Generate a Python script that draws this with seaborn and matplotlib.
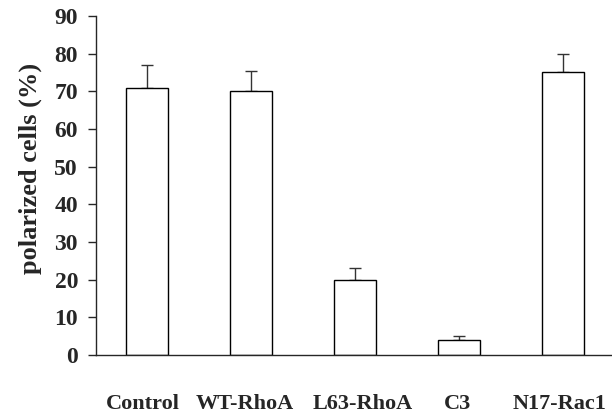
import seaborn as sns
import matplotlib.pyplot as plt
import matplotlib.transforms as mtransforms
import pandas as pd

groups = ['Control', 'WT-RhoA', 'L63-RhoA', 'C3', 'N17-Rac1']
polarized = [71, 70, 20, 4, 75]
err = [6, 5.5, 3, 1, 5]

df = pd.DataFrame({'group': groups, 'polarized': polarized})

sns.set_style('ticks')
plt.rcParams['font.family'] = ['Liberation Serif', 'DejaVu Serif']
plt.rcParams['font.weight'] = 'bold'

fig = plt.figure(figsize=(6.12, 4.16), dpi=100)
ax = fig.add_axes([0.157, 0.1466, 0.843, 0.815])

sns.barplot(data=df, x='group', y='polarized', color='white', edgecolor='black',
            linewidth=1, width=0.40, ax=ax, zorder=2)
ax.errorbar(range(len(groups)), polarized, yerr=[[0] * len(err), err], fmt='none',
            ecolor='#333333', elinewidth=1, capsize=4.5, capthick=1, zorder=1)

ax.set_ylim(0, 90)
ax.set_yticks(range(0, 91, 10))
ax.set_xlim(-0.49, 4.47)
sns.despine(ax=ax)
ax.spines['left'].set_linewidth(1)
ax.spines['bottom'].set_linewidth(1)
ax.tick_params(axis='y', length=6, width=1, pad=7, labelsize=17)
ax.tick_params(axis='x', length=0, pad=28, labelsize=16)
for lab in ax.get_xticklabels() + ax.get_yticklabels():
    lab.set_fontweight('bold')

# nudge the category labels sideways a little, as in the original layout
shifts = [-4, -6, 8, -2, -4]
for lab, dx in zip(ax.get_xticklabels(), shifts):
    lab.set_transform(lab.get_transform() +
                      mtransforms.ScaledTranslation(dx / 100, 0, fig.dpi_scale_trans))

ax.set_xlabel('')
ax.set_ylabel('polarized cells (%)', fontsize=19, fontweight='bold')
ax.yaxis.set_label_coords(-0.105, 0.55)

fig.savefig('out.png', dpi=100)
